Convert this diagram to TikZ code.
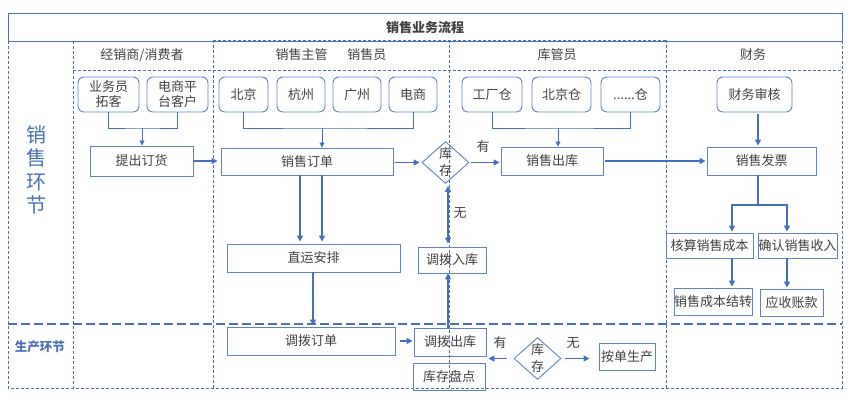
\documentclass[tikz,border=0pt]{standalone}
\usepackage{fontspec}
\newfontfamily\cjk{Noto Sans CJK SC}
\usetikzlibrary{shapes.geometric,arrows.meta,calc}
\definecolor{lane}{RGB}{74,112,182}
\definecolor{bx}{RGB}{95,130,195}
\definecolor{arr}{RGB}{68,110,190}
\definecolor{txt}{RGB}{64,64,64}
\begin{document}
\begin{tikzpicture}[x=1pt,y=-1pt,
 every node/.style={font=\cjk\fontsize{13}{15}\selectfont, text=txt},
 box/.style={draw=bx, line width=0.9pt, inner sep=0pt, align=center},
 rbox/.style={box, rounded corners=6pt},
 dia/.style={draw=bx, line width=0.9pt, diamond, inner sep=0pt, align=center, minimum width=47pt, minimum height=39pt, font=\cjk\fontsize{13}{17}\selectfont},
 lanel/.style={draw=lane, line width=0.7pt, dash pattern=on 3pt off 2pt},
 sepl/.style={draw=lane, line width=2.6pt, dash pattern=on 9pt off 4pt},
 thkl/.style={draw=arr, line width=1.8pt},
 thk/.style={thkl, -{Triangle[length=6pt,width=6pt]}},
 thn/.style={draw=arr, line width=0.9pt},
 thna/.style={thn, -{Triangle[length=5pt,width=5pt]}},
 lbl/.style={inner sep=0pt},
]
\useasboundingbox (0,0) rectangle (855,403);
% frame and lanes
\draw[draw=lane, line width=0.8pt] (8,13) rectangle (842,41);
\node[font=\cjk\bfseries\fontsize{13}{15}\selectfont] (title) at (425,28) {销售业务流程};
\draw[lanel] (8,41) -- (8,388) -- (842,388) -- (842,41);
\draw[lanel] (73,41) -- (73,388);
\draw[lanel] (213,40) -- (213,388);
\draw[lanel] (449,40) -- (449,388);
\draw[lanel] (666,40) -- (666,388);
\draw[lanel] (73,70) -- (842,70);
\draw[lanel] (213,40) -- (666,40);
\draw[sepl] (8,324) -- (842,324);
% lane titles
\node (h1) at (142,55) {经销商/消费者};
\node (h2) at (331,55) {销售主管\hspace{20pt}销售员};
\node (h3) at (557,55) {库管员};
\node (h4) at (753,55) {财务};
\node[text=lane, align=center, font=\cjk\fontsize{20}{23.5}\selectfont] (s1) at (37,170) {销\\售\\环\\节};
\node[text=lane, font=\cjk\bfseries\fontsize{12.5}{15}\selectfont] (s2) at (40,347) {生产环节};
% top rounded boxes
\node[rbox, minimum width=61pt, minimum height=35pt] (r1) at (108.5,94.5) {业务员\\拓客};
\node[rbox, minimum width=61pt, minimum height=35pt] (r2) at (177.5,94.5) {电商平\\台客户};
\node[rbox, minimum width=49pt, minimum height=35pt] (r3) at (243.5,94.5) {北京};
\node[rbox, minimum width=48pt, minimum height=35pt] (r4) at (301,94.5) {杭州};
\node[rbox, minimum width=48pt, minimum height=35pt] (r5) at (357,94.5) {广州};
\node[rbox, minimum width=48pt, minimum height=35pt] (r6) at (413,94.5) {电商};
\node[rbox, minimum width=60pt, minimum height=35pt] (r7) at (492,94.5) {工厂仓};
\node[rbox, minimum width=59pt, minimum height=35pt] (r8) at (561.5,94.5) {北京仓};
\node[rbox, minimum width=59pt, minimum height=35pt] (r9) at (630.5,94.5) {......仓};
\node[rbox, minimum width=75pt, minimum height=35pt] (r10) at (754.5,94.5) {财务审核};
% process boxes
\node[box, minimum width=103pt, minimum height=30pt] (b1) at (141.5,161) {提出订货};
\node[box, minimum width=172pt, minimum height=27pt] (b2) at (307,161.5) {销售订单};
\node[dia] (d1) at (445.5,162.5) {库\\存};
\node[box, minimum width=102pt, minimum height=28pt] (b3) at (552,161) {销售出库};
\node[box, minimum width=109pt, minimum height=28pt] (b4) at (761.5,161) {销售发票};
\node[box, minimum width=87pt, minimum height=25pt] (b5) at (709.5,245.5) {核算销售成本};
\node[box, minimum width=79pt, minimum height=25pt] (b6) at (797.5,245.5) {确认销售收入};
\node[box, minimum width=78pt, minimum height=27pt] (b7) at (713,301.5) {销售成本结转};
\node[box, minimum width=63pt, minimum height=27pt] (b8) at (791.5,302.5) {应收账款};
\node[box, minimum width=173pt, minimum height=28pt] (b9) at (313.5,258) {直运安排};
\node[box, minimum width=68pt, minimum height=26pt] (b10) at (452,260) {调拨入库};
\node[box, minimum width=168pt, minimum height=28pt] (b11) at (311,341) {调拨订单};
\node[box, minimum width=72pt, minimum height=28pt] (b12) at (450,342) {调拨出库};
\node[box, minimum width=72pt, minimum height=27pt] (b13) at (449,376.5) {库存盘点};
\node[dia] (d2) at (537.5,358.5) {库\\存};
\node[box, minimum width=56pt, minimum height=27pt] (b14) at (627,356.5) {按单生产};
% junctions
\coordinate (j1) at (142,128);
\coordinate (j2) at (322,128);
\coordinate (j3) at (558,128);
\coordinate (m1) at (300,128);
\coordinate (m3) at (313,128);
\coordinate (m4) at (758,128);
\coordinate (k0) at (758,205);
\coordinate (k1) at (732,205);
\coordinate (k2) at (787,205);
\coordinate (v) at (448,300);
% thin connectors
\draw[thn] (r1.south) |- (j1) -| (r2.south);
\draw[thna] (j1) -- (j1 |- b1.north);
\draw[thn] (r3.south) |- (j2) -| (r6.south);
\draw[thna] (j2) -- (j2 |- b2.north);
\draw[thn] (r7.south) |- (j3) -| (r9.south);
\draw[thna] (j3) -- (j3 |- b3.north);
% thick arrows
\draw[thk, shorten <=1pt, shorten >=3pt] (b1.east) -- (b1.east -| b2.west);
\draw[thk, shorten <=2pt, shorten >=2pt] (d1.west -| b2.east) -- (d1.west);
\draw[thk, shorten <=2pt, shorten >=1pt] (d1.east) -- (d1.east -| b3.west);
\node[lbl] (y1) at (483,147) {有};
\draw[thk, shorten <=2pt, shorten >=1pt] (b3.east) -- (b4.west);
\draw[thk, shorten <=2pt, shorten >=1pt] (m4 |- r10.south) -- (m4 |- b4.north);
\draw[thkl] (k0 |- b4.south) -- (k0);
\draw[thk, shorten >=1pt] (k0) -| (k1 |- b5.north);
\draw[thk, shorten >=1pt] (k0) -| (k2 |- b6.north);
\draw[thk, shorten >=1pt] (k1 |- b5.south) -- (k1 |- b7.north);
\draw[thk, shorten >=1pt] (k2 |- b6.south) -- (k2 |- b8.north);
\draw[thk, shorten >=2pt] (m1 |- b2.south) -- (m1 |- b9.north);
\draw[thk, shorten >=2pt] (j2 |- b2.south) -- (j2 |- b9.north);
\draw[thk, shorten >=1pt] (m3 |- b9.south) -- (m3 |- b11.north);
\draw[thk, shorten <=5pt, shorten >=1pt] (b11.east) -- (b11.east -| b12.west);
\draw[thk] (v |- b12.north) -- (v |- b10.south);
\draw[thkl, {Triangle[length=6pt,width=6pt]}-{Triangle[length=6pt,width=6pt]}, shorten <=2pt, shorten >=3pt] (v |- d1.south) -- (v |- b10.north);
\node[lbl] (n1) at (460,213) {无};
\draw[thk, shorten <=7pt, shorten >=2pt] (d2.west) -- (d2.west -| b12.east);
\node[lbl] (y2) at (500,343) {有};
\draw[thk, shorten <=4pt, shorten >=9pt] (d2.east) -- (d2.east -| b14.west);
\node[lbl] (n2) at (573,343) {无};
\end{tikzpicture}
\end{document}
